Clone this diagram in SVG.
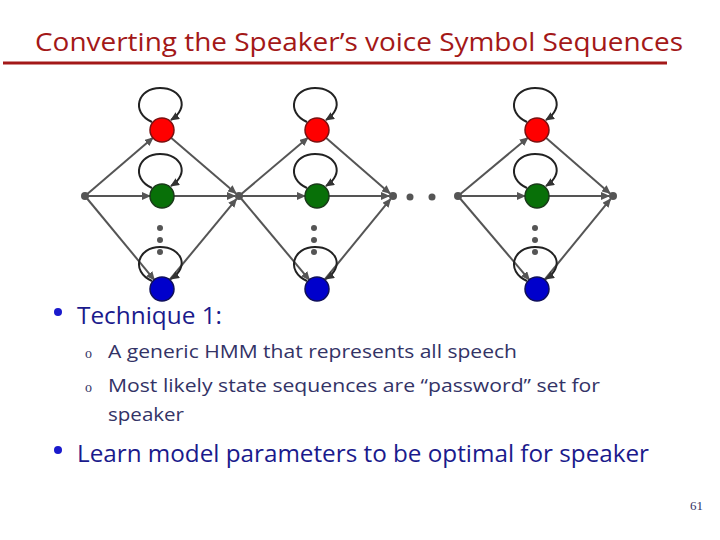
<svg xmlns="http://www.w3.org/2000/svg" width="720" height="540" viewBox="0 0 720 540">
<style>
.edge{stroke:#555;stroke-width:2;fill:none;marker-end:url(#ah)}
.loop{stroke:#222;stroke-width:2;fill:none;marker-end:url(#ah2)}
.junc{fill:#555}
.node{stroke-width:1.5}
.red{fill:#f00;stroke:#7a1010}
.green{fill:#087008;stroke:#1a3a1a}
.blue{fill:#0000cc;stroke:#10105a}
.title{font-family:"Open Sans","Liberation Sans",sans-serif;font-size:26px;fill:#a31818}
.b1{font-family:"Open Sans","Liberation Sans",sans-serif;font-size:23px;fill:#1a1a8c}
.b2{font-family:"Open Sans","Liberation Sans",sans-serif;font-size:19px;fill:#333366}
.so{font-family:"Liberation Serif",serif;font-size:14px;fill:#333366}
</style>
<defs>
<marker id="ah" markerWidth="9" markerHeight="8" refX="8" refY="4" orient="auto" markerUnits="userSpaceOnUse"><path d="M0,0 L9,4 L0,8 Z" fill="#555"/></marker>
<marker id="ah2" markerWidth="9" markerHeight="8" refX="8" refY="4" orient="auto" markerUnits="userSpaceOnUse"><path d="M0,0 L9,4 L0,8 Z" fill="#333"/></marker>
<g id="loopshape"><path class="loop" d="M -10,-8 C -32,-18 -24,-42 -2,-42 C 20,-42 28,-22 9,-10"/></g>
</defs>
<g id="title">
<text class="title" x="35" y="51" textLength="648" lengthAdjust="spacingAndGlyphs">Converting the Speaker’s voice Symbol Sequences</text>
<rect x="3" y="61.5" width="664" height="3" fill="#a31818"/>
</g>
<g id="connectors">
<line class="edge" x1="85" y1="196" x2="152.9" y2="137.8"/>
<line class="edge" x1="85" y1="196" x2="150" y2="196"/>
<line class="edge" x1="85" y1="196" x2="154.3" y2="279.8"/>
<line class="edge" x1="162" y1="130" x2="236" y2="193.4"/>
<line class="edge" x1="162" y1="196" x2="235" y2="196"/>
<line class="edge" x1="162" y1="289" x2="236.4" y2="199.1"/>
<line class="edge" x1="239" y1="196" x2="307.8" y2="137.8"/>
<line class="edge" x1="239" y1="196" x2="305" y2="196"/>
<line class="edge" x1="239" y1="196" x2="309.3" y2="279.8"/>
<line class="edge" x1="317" y1="130" x2="390" y2="193.4"/>
<line class="edge" x1="317" y1="196" x2="389" y2="196"/>
<line class="edge" x1="317" y1="289" x2="390.5" y2="199.1"/>
<line class="edge" x1="458" y1="196" x2="527.8" y2="137.8"/>
<line class="edge" x1="458" y1="196" x2="525" y2="196"/>
<line class="edge" x1="458" y1="196" x2="529.3" y2="279.8"/>
<line class="edge" x1="537" y1="130" x2="610" y2="193.4"/>
<line class="edge" x1="537" y1="196" x2="609" y2="196"/>
<line class="edge" x1="537" y1="289" x2="610.5" y2="199.1"/>
<use href="#loopshape" transform="translate(162,130)"/>
<use href="#loopshape" transform="translate(162,196)"/>
<use href="#loopshape" transform="translate(162,289)"/>
<use href="#loopshape" transform="translate(317,130)"/>
<use href="#loopshape" transform="translate(317,196)"/>
<use href="#loopshape" transform="translate(317,289)"/>
<use href="#loopshape" transform="translate(537,130)"/>
<use href="#loopshape" transform="translate(537,196)"/>
<use href="#loopshape" transform="translate(537,289)"/>
</g>
<g id="junctions">
<circle class="junc" cx="85" cy="196" r="4"/>
<circle class="junc" cx="239" cy="196" r="4"/>
<circle class="junc" cx="393" cy="196" r="4"/>
<circle class="junc" cx="410" cy="197" r="3.5"/>
<circle class="junc" cx="432" cy="197" r="3.5"/>
<circle class="junc" cx="458" cy="196" r="4"/>
<circle class="junc" cx="613" cy="196" r="4"/>
</g>
<g id="vdots">
<circle class="junc" cx="160" cy="228" r="3"/><circle class="junc" cx="160" cy="240" r="3"/><circle class="junc" cx="160" cy="252" r="3"/>
<circle class="junc" cx="314" cy="228" r="3"/><circle class="junc" cx="314" cy="240" r="3"/><circle class="junc" cx="314" cy="252" r="3"/>
<circle class="junc" cx="535" cy="228" r="3"/><circle class="junc" cx="535" cy="240" r="3"/><circle class="junc" cx="535" cy="252" r="3"/>
</g>
<g id="n1r"><circle class="node red" cx="162" cy="130" r="12"/></g>
<g id="n1g"><circle class="node green" cx="162" cy="196" r="12"/></g>
<g id="n1b"><circle class="node blue" cx="162" cy="289" r="12"/></g>
<g id="n2r"><circle class="node red" cx="317" cy="130" r="12"/></g>
<g id="n2g"><circle class="node green" cx="317" cy="196" r="12"/></g>
<g id="n2b"><circle class="node blue" cx="317" cy="289" r="12"/></g>
<g id="n3r"><circle class="node red" cx="537" cy="130" r="12"/></g>
<g id="n3g"><circle class="node green" cx="537" cy="196" r="12"/></g>
<g id="n3b"><circle class="node blue" cx="537" cy="289" r="12"/></g>
<g id="body">
<circle cx="58" cy="312" r="4" fill="#1a1acc"/>
<text class="b1" x="77" y="324" textLength="145" lengthAdjust="spacingAndGlyphs">Technique 1:</text>
<text class="so" x="85" y="358">o</text>
<text class="b2" x="108" y="358" textLength="409" lengthAdjust="spacingAndGlyphs">A generic HMM that represents all speech</text>
<text class="so" x="85" y="392">o</text>
<text class="b2" x="108" y="392" textLength="492" lengthAdjust="spacingAndGlyphs">Most likely state sequences are “password” set for</text>
<text class="b2" x="108" y="421" textLength="76" lengthAdjust="spacingAndGlyphs">speaker</text>
<circle cx="58" cy="450" r="4" fill="#1a1acc"/>
<text class="b1" x="77" y="462" textLength="572" lengthAdjust="spacingAndGlyphs">Learn model parameters to be optimal for speaker</text>
<text x="690" y="510" font-family="Liberation Serif,serif" font-size="13" fill="#333366">61</text>
</g>
</svg>
